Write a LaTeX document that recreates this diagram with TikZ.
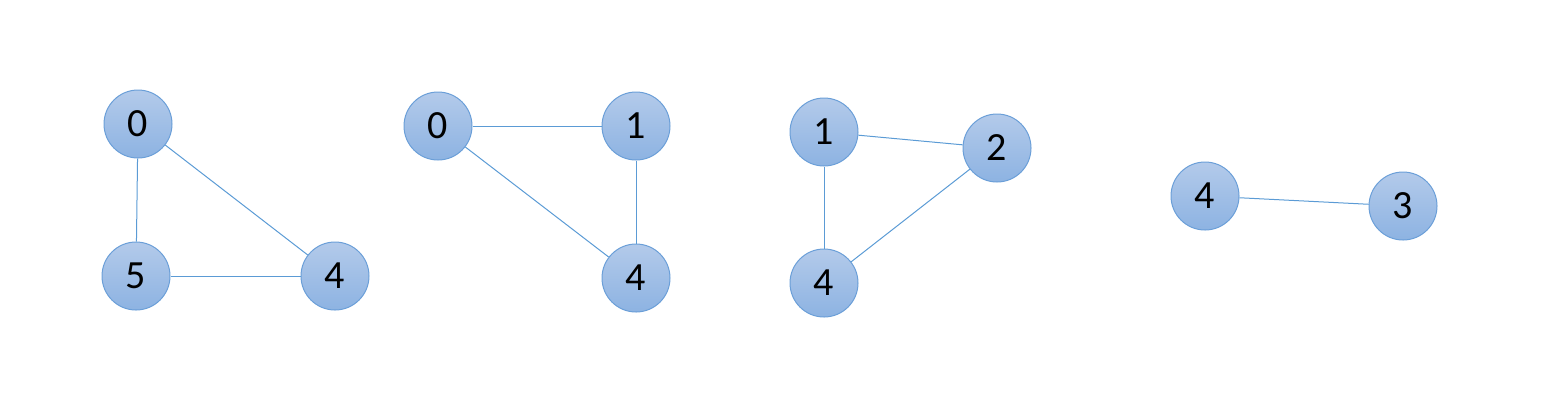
\documentclass[tikz,border=0pt]{standalone}
\usepackage{fontspec}
\setmainfont{Carlito}
\definecolor{nodetop}{HTML}{B3CAEA}
\definecolor{nodebot}{HTML}{8DB3E2}
\definecolor{nodeline}{HTML}{6B9FD8}
\definecolor{edgeline}{HTML}{5B9BD5}
\begin{document}
\begin{tikzpicture}[x=0.5pt,y=-0.5pt,
  vertex/.style={shape=circle,draw=nodeline,line width=0.5pt,top color=nodetop,bottom color=nodebot,
    minimum size=34pt,inner sep=0pt,font=\fontsize{20}{20}\selectfont},
  edge/.style={draw=edgeline,line width=0.5pt}]
\useasboundingbox (0,0) rectangle (1552,409);
\node (a0) at (138,124) [vertex] {0};
\node (a5) at (136,276) [vertex] {5};
\node (a4) at (335,276) [vertex] {4};
\node (b0) at (438,126) [vertex] {0};
\node (b1) at (636,126) [vertex] {1};
\node (b4) at (636,278) [vertex] {4};
\node (c1) at (824,132) [vertex] {1};
\node (c2) at (997,148) [vertex] {2};
\node (c4) at (824,283) [vertex] {4};
\node (d4) at (1205,196) [vertex] {4};
\node (d3) at (1403,206) [vertex] {3};
\draw [edge] (a0) -- (a5);
\draw [edge] (a0) -- (a4);
\draw [edge] (a5) -- (a4);
\draw [edge] (b0) -- (b1);
\draw [edge] (b1) -- (b4);
\draw [edge] (b0) -- (b4);
\draw [edge] (c1) -- (c2);
\draw [edge] (c1) -- (c4);
\draw [edge] (c2) -- (c4);
\draw [edge] (d4) -- (d3);
\end{tikzpicture}
\end{document}
